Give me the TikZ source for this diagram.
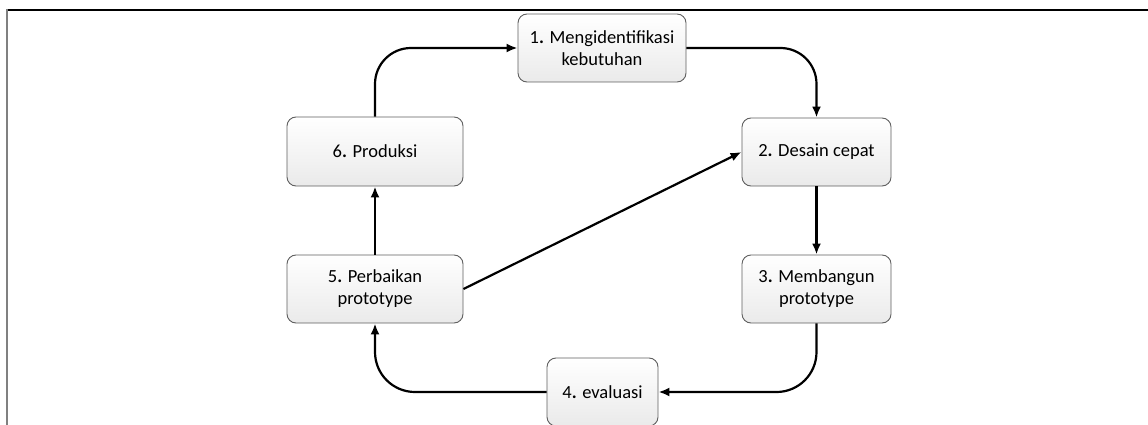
\documentclass[tikz,border=0pt]{standalone}
\usepackage{fontspec}
\setmainfont{Carlito}
\usetikzlibrary{arrows.meta}
\definecolor{boxline}{RGB}{95,95,95}
\definecolor{boxbottom}{RGB}{234,234,234}
\tikzset{
  stepbox/.style={draw=boxline, line width=0.9pt, rounded corners=9pt,
    top color=white, bottom color=boxbottom, align=center, inner sep=0pt,
    font=\fontsize{18.5}{22}\selectfont},
  flow/.style={line width=2.2pt, -{Latex[length=11pt,width=9pt]}},
}
\begin{document}
\begin{tikzpicture}[x=1pt,y=-1pt]
\useasboundingbox (0,0) rectangle (1148,425);
\clip (0,0) rectangle (1148,425);
\fill[white] (0,0) rectangle (1148,425);
\draw[line width=2.2pt] (6,10) -- (1148,10);
\draw[line width=1.4pt, gray] (7,9) -- (7,425);
\node[stepbox, minimum width=168pt, minimum height=68pt] (b1) at (602,48) {1\textbf{.} Mengidentifikasi\\kebutuhan};
\node[stepbox, minimum width=149pt, minimum height=68pt] (b2) at (816.5,152) {2\textbf{.} Desain cepat};
\node[stepbox, minimum width=149pt, minimum height=68pt] (b3) at (816.5,289) {3\textbf{.} Membangun\\prototype};
\node[stepbox, minimum width=111pt, minimum height=68pt] (b4) at (602.5,392) {4\textbf{.} evaluasi};
\node[stepbox, minimum width=176pt, minimum height=68pt] (b5) at (375,289) {5\textbf{.} Perbaikan\\prototype};
\node[stepbox, minimum width=176pt, minimum height=69pt] (b6) at (375,151.5) {6\textbf{.} Produksi};
\draw[flow, rounded corners=36pt] (b6.north) |- (b1.west);
\draw[flow, rounded corners=36pt] (b1.east) -| (b2.north);
\draw[flow] (b2.south) -- (b3.north);
\draw[flow, rounded corners=40pt] (b3.south) |- (b4.east);
\draw[flow, rounded corners=40pt] (b4.west) -| (b5.south);
\draw[flow] (b5.north) -- (b6.south);
\draw[flow] (b5.east) -- (b2.west);
\end{tikzpicture}
\end{document}
